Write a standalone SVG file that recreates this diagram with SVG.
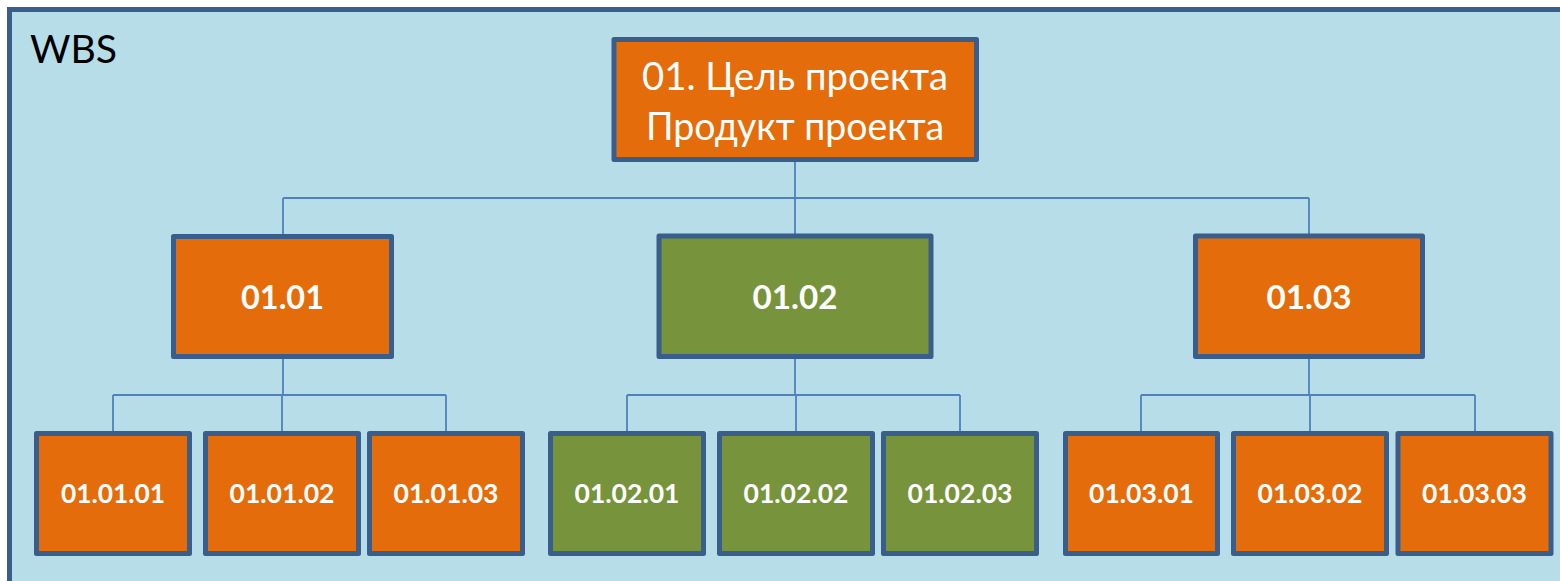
<svg xmlns="http://www.w3.org/2000/svg" width="1560" height="581" viewBox="0 0 1560 581">
<style>
.box{stroke:#3a5e8c;stroke-width:5;stroke-linejoin:round}
.or{fill:#e46c0a}
.gr{fill:#77933c}
.lbl{fill:#ffffff;font-family:Lato,"Open Sans","Liberation Sans",sans-serif;text-anchor:middle}
.l2{font-size:33px;font-weight:bold}
.l3{font-size:26px;font-weight:bold}
.top{font-size:39px}
.con{fill:none;stroke:#4f81bd;stroke-width:1.8}
</style>
<rect width="1560" height="581" fill="#ffffff"/>
<rect id="frame" x="9.5" y="9.5" width="1600" height="620" fill="#b7dde8" stroke="#3a5e8c" stroke-width="5"/>
<text x="30" y="63" font-family="Lato,'Open Sans','Liberation Sans',sans-serif" font-size="39" fill="#000000" textLength="87" lengthAdjust="spacingAndGlyphs">WBS</text>
<g id="connectors">
<path class="con" d="M795 162 V198 M283 198 H1309 M283 198 V234 M795 198 V234 M1309 198 V234"/>
<path class="con" d="M283 359 V395 M113 395 H446 M113 395 V431 M282 395 V431 M446 395 V431"/>
<path class="con" d="M795 359 V395 M627 395 H960 M627 395 V431 M796 395 V431 M960 395 V431"/>
<path class="con" d="M1309 359 V395 M1141 395 H1475 M1141 395 V431 M1310 395 V431 M1475 395 V431"/>
</g>
<g id="n01">
<rect class="box or" x="614" y="39.5" width="362.5" height="120"/>
<text class="lbl top" x="795" y="90" textLength="306" lengthAdjust="spacingAndGlyphs">01. Цель проекта</text>
<text class="lbl top" x="795" y="140" textLength="298" lengthAdjust="spacingAndGlyphs">Продукт проекта</text>
</g>
<g id="n0101">
<rect class="box or" x="173.5" y="236.5" width="218" height="120"/>
<text class="lbl l2" x="282.5" y="309" textLength="83" lengthAdjust="spacingAndGlyphs">01.01</text>
</g>
<g id="n0102">
<rect class="box gr" x="659" y="236" width="272" height="120.5"/>
<text class="lbl l2" x="795" y="309" textLength="85" lengthAdjust="spacingAndGlyphs">01.02</text>
</g>
<g id="n0103">
<rect class="box or" x="1195.5" y="236" width="227" height="120.5"/>
<text class="lbl l2" x="1309" y="309" textLength="85" lengthAdjust="spacingAndGlyphs">01.03</text>
</g>
<g id="n010101"><rect class="box or" x="36.5" y="433.5" width="153" height="120"/><text class="lbl l3" x="113" y="503" textLength="104" lengthAdjust="spacingAndGlyphs">01.01.01</text></g>
<g id="n010102"><rect class="box or" x="205.5" y="433.5" width="153" height="120"/><text class="lbl l3" x="282" y="503" textLength="105" lengthAdjust="spacingAndGlyphs">01.01.02</text></g>
<g id="n010103"><rect class="box or" x="369.5" y="433.5" width="153" height="120"/><text class="lbl l3" x="446" y="503" textLength="105" lengthAdjust="spacingAndGlyphs">01.01.03</text></g>
<g id="n010201"><rect class="box gr" x="550.5" y="433.5" width="153" height="120"/><text class="lbl l3" x="627" y="503" textLength="105" lengthAdjust="spacingAndGlyphs">01.02.01</text></g>
<g id="n010202"><rect class="box gr" x="719.5" y="433.5" width="153" height="120"/><text class="lbl l3" x="796" y="503" textLength="105" lengthAdjust="spacingAndGlyphs">01.02.02</text></g>
<g id="n010203"><rect class="box gr" x="883.5" y="433.5" width="153" height="120"/><text class="lbl l3" x="960" y="503" textLength="105" lengthAdjust="spacingAndGlyphs">01.02.03</text></g>
<g id="n010301"><rect class="box or" x="1065.5" y="433.5" width="152" height="120"/><text class="lbl l3" x="1141.5" y="503" textLength="105" lengthAdjust="spacingAndGlyphs">01.03.01</text></g>
<g id="n010302"><rect class="box or" x="1233.5" y="433.5" width="153" height="120"/><text class="lbl l3" x="1310" y="503" textLength="105" lengthAdjust="spacingAndGlyphs">01.03.02</text></g>
<g id="n010303"><rect class="box or" x="1398" y="433.5" width="153" height="120"/><text class="lbl l3" x="1474.5" y="503" textLength="105" lengthAdjust="spacingAndGlyphs">01.03.03</text></g>
</svg>
